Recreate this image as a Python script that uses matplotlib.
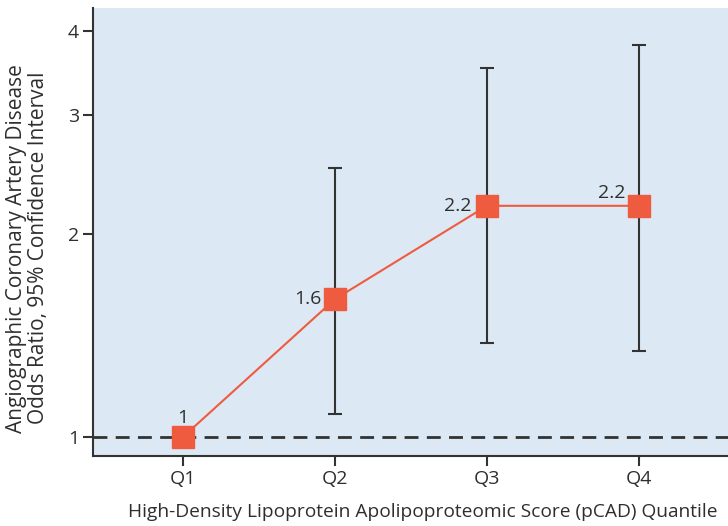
import matplotlib
matplotlib.use("Agg")
import matplotlib.pyplot as plt
import numpy as np

categories = ["Q1", "Q2", "Q3", "Q4"]
odds = [1.0, 1.6, 2.2, 2.2]
ci_low = [1.0, 1.08, 1.38, 1.34]
ci_high = [1.0, 2.50, 3.52, 3.81]
point_labels = ["1", "1.6", "2.2", "2.2"]
yticks = [1, 2, 3, 4]

plt.rcParams['font.family'] = ['Open Sans', 'DejaVu Sans']
txt = '#2e2e2e'
orange = '#ef5b3e'

fig = plt.figure(figsize=(7.28, 5.26), dpi=100)
ax = fig.add_axes([93/728, 1-456/526, 1-93/728, (456-8)/526])
ax.set_facecolor('#dce8f4')
ax.set_yscale('log')
x = np.arange(1, 5)
ax.axhline(1, color='#333333', lw=2, ls=(0, (5, 3)), zorder=1)
yerr = [np.array(odds) - np.array(ci_low), np.array(ci_high) - np.array(odds)]
ax.errorbar(x[1:], odds[1:], yerr=[yerr[0][1:], yerr[1][1:]], fmt='none',
            ecolor='#333333', elinewidth=1.5, capsize=5, capthick=1.5, zorder=2)
ax.plot(x, odds, color=orange, lw=1.5, zorder=3)
ax.plot(x, odds, ls='none', marker='s', ms=15.5, color=orange, zorder=4)

offsets = [(0, 7, 'center', 'bottom'), (-10, 0, 'right', 'center'),
           (-11, 0, 'right', 'center'), (-10, 3, 'right', 'bottom')]
for xi, yi, lab, (dx, dy, ha, va) in zip(x, odds, point_labels, offsets):
    ax.annotate(lab, (xi, yi), xytext=(dx, dy), textcoords='offset points',
                ha=ha, va=va, fontsize=14, color=txt)

ax.set_xlim(0.408, 4.586)
ax.set_ylim(0.937, 4.32)
ax.set_xticks(x)
ax.set_xticklabels(categories)
ax.set_yticks(yticks)
ax.set_yticklabels([str(t) for t in yticks])
ax.yaxis.set_minor_locator(matplotlib.ticker.NullLocator())
ax.tick_params(axis='both', length=7, width=1.5, color='#333333', labelsize=14,
               labelcolor=txt, pad=3)
for s in ['top', 'right']:
    ax.spines[s].set_visible(False)
for s in ['left', 'bottom']:
    ax.spines[s].set_color('#333333')
    ax.spines[s].set_linewidth(1.5)

ax.set_xlabel('High-Density Lipoprotein Apolipoproteomic Score (pCAD) Quantile',
              fontsize=13.8, color=txt)
ax.xaxis.set_label_coords(0.52, -47/448)
ax.set_ylabel('Angiographic Coronary Artery Disease\nOdds Ratio, 95% Confidence Interval',
              fontsize=15, color=txt, linespacing=1.05)
ax.yaxis.set_label_coords(-44/635, 0.464)

fig.savefig('out.png', dpi=100)
